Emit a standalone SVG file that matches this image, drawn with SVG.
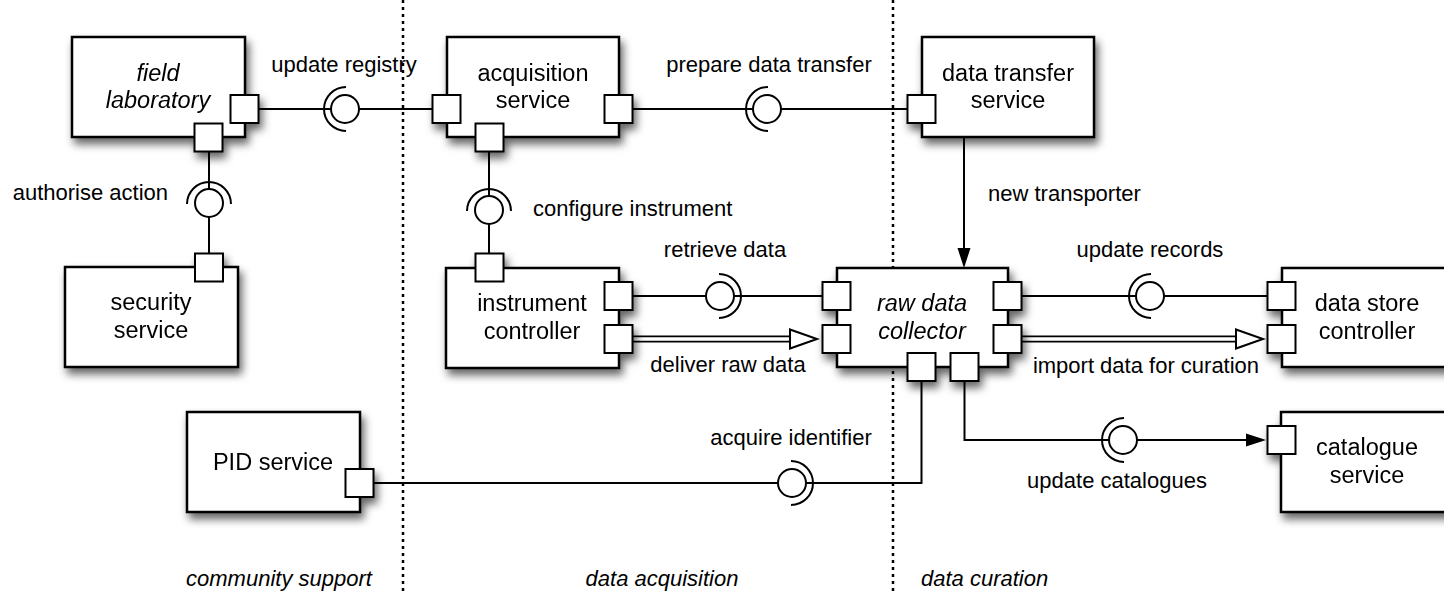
<svg xmlns="http://www.w3.org/2000/svg" width="1444" height="594" viewBox="0 0 1444 594">
  <style>
    .box { fill: #fff; stroke: #000; stroke-width: 2.5; }
    .port { fill: #fff; stroke: #000; stroke-width: 2; }
    .wire { fill: none; stroke: #000; stroke-width: 2; }
    .ball { fill: #fff; stroke: #000; stroke-width: 2; }
    .socket { fill: none; stroke: #000; stroke-width: 2; }
    .flow-outer { fill: none; stroke: #000; stroke-width: 7; }
    .flow-inner { fill: none; stroke: #fff; stroke-width: 3.5; }
    .hollow { fill: #fff; stroke: #000; stroke-width: 2; stroke-linejoin: miter; }
    .solid { fill: #000; stroke: none; }
    .lane { fill: none; stroke: #000; stroke-width: 2.5; stroke-dasharray: 3 4; }
    text { font-family: "Liberation Sans", Arial, Helvetica, sans-serif; fill: #000; }
    .name { font-size: 23.5px; text-anchor: middle; }
    .it { font-style: italic; }
    .lbl { font-size: 22px; }
    .mid { text-anchor: middle; }
    .end { text-anchor: end; }
  </style>
  <defs>
    <filter id="shadow" x="-20%" y="-20%" width="150%" height="160%">
      <feDropShadow dx="3" dy="6" stdDeviation="4" flood-color="#000" flood-opacity="0.6"/>
    </filter>
  </defs>

  <rect width="1444" height="594" fill="#fff"/>

  <!-- swimlane separators -->
  <g id="lanes">
    <line class="lane" x1="403" y1="0" x2="403" y2="594"/>
    <line class="lane" x1="893" y1="0" x2="893" y2="594"/>
    <text class="lbl it mid" x="279" y="586">community support</text>
    <text class="lbl it mid" x="662" y="586">data acquisition</text>
    <text class="lbl it" x="921" y="586">data curation</text>
  </g>

  <!-- connectors -->
  <g id="connectors">
    <!-- update registry -->
    <line class="wire" x1="258" y1="109" x2="433" y2="109"/>
    <circle class="ball" cx="345" cy="109" r="14"/>
    <path class="socket" d="M346,87 A22,22 0 0 0 346,131"/>
    <text class="lbl mid" x="344" y="72">update registry</text>

    <!-- prepare data transfer -->
    <line class="wire" x1="632" y1="109" x2="908" y2="109"/>
    <circle class="ball" cx="767" cy="109" r="14"/>
    <path class="socket" d="M768,87 A22,22 0 0 0 768,131"/>
    <text class="lbl mid" x="769" y="72">prepare data transfer</text>

    <!-- authorise action -->
    <line class="wire" x1="209" y1="151" x2="209" y2="254"/>
    <circle class="ball" cx="209" cy="203" r="14"/>
    <path class="socket" d="M187,204 A22,22 0 0 1 231,204"/>
    <text class="lbl end" x="168" y="200">authorise action</text>

    <!-- configure instrument -->
    <line class="wire" x1="489" y1="151" x2="489" y2="254"/>
    <circle class="ball" cx="489" cy="210" r="14"/>
    <path class="socket" d="M467,211 A22,22 0 0 1 511,211"/>
    <text class="lbl" x="533" y="216">configure instrument</text>

    <!-- new transporter -->
    <line class="wire" x1="964" y1="138" x2="964" y2="252"/>
    <path class="solid" d="M964,268 L957.5,248 L970.5,248 Z"/>
    <text class="lbl" x="988" y="201">new transporter</text>

    <!-- retrieve data -->
    <line class="wire" x1="632" y1="296" x2="823" y2="296"/>
    <circle class="ball" cx="720" cy="296" r="14"/>
    <path class="socket" d="M719,274 A22,22 0 0 1 719,318"/>
    <text class="lbl mid" x="725" y="257">retrieve data</text>

    <!-- deliver raw data -->
    <line class="flow-outer" x1="632" y1="339" x2="792" y2="339"/>
    <line class="flow-inner" x1="632" y1="339" x2="793" y2="339"/>
    <path class="hollow" d="M790,329.5 L817,339 L790,348.5 Z"/>
    <text class="lbl mid" x="728" y="372">deliver raw data</text>

    <!-- update records -->
    <line class="wire" x1="1021" y1="296" x2="1268" y2="296"/>
    <circle class="ball" cx="1150" cy="296" r="14"/>
    <path class="socket" d="M1151,274 A22,22 0 0 0 1151,318"/>
    <text class="lbl mid" x="1150" y="257">update records</text>

    <!-- import data for curation -->
    <line class="flow-outer" x1="1021" y1="339" x2="1238" y2="339"/>
    <line class="flow-inner" x1="1021" y1="339" x2="1239" y2="339"/>
    <path class="hollow" d="M1236,329.5 L1263,339 L1236,348.5 Z"/>
    <text class="lbl mid" x="1146" y="373">import data for curation</text>

    <!-- acquire identifier -->
    <polyline class="wire" points="921.5,381 921.5,483 373,483"/>
    <circle class="ball" cx="792" cy="483" r="14"/>
    <path class="socket" d="M791,461 A22,22 0 0 1 791,505"/>
    <text class="lbl mid" x="791" y="445">acquire identifier</text>

    <!-- update catalogues -->
    <polyline class="wire" points="964.5,381 964.5,440 1250,440"/>
    <path class="solid" d="M1266,440 L1246,433.5 L1246,446.5 Z"/>
    <circle class="ball" cx="1123" cy="440" r="14"/>
    <path class="socket" d="M1124,418 A22,22 0 0 0 1124,462"/>
    <text class="lbl mid" x="1117" y="488">update catalogues</text>
  </g>

  <!-- components -->
  <g id="field-laboratory" filter="url(#shadow)">
    <rect class="box" x="72" y="37" width="173" height="100"/>
    <rect class="port" x="230.5" y="95" width="28" height="28"/>
    <rect class="port" x="194.5" y="123.5" width="28" height="28"/>
    <text class="name it" x="158" y="81">field</text>
    <text class="name it" x="158" y="108">laboratory</text>
  </g>

  <g id="security-service" filter="url(#shadow)">
    <rect class="box" x="65" y="267" width="173" height="100"/>
    <rect class="port" x="195" y="253.5" width="28" height="28"/>
    <text class="name" x="151" y="310">security</text>
    <text class="name" x="151" y="338">service</text>
  </g>

  <g id="acquisition-service" filter="url(#shadow)">
    <rect class="box" x="447" y="37" width="172" height="100"/>
    <rect class="port" x="432.5" y="95" width="28" height="28"/>
    <rect class="port" x="604.5" y="95" width="28" height="28"/>
    <rect class="port" x="475.5" y="123.5" width="28" height="28"/>
    <text class="name" x="533" y="81">acquisition</text>
    <text class="name" x="533" y="108">service</text>
  </g>

  <g id="instrument-controller" filter="url(#shadow)">
    <rect class="box" x="446" y="268" width="173" height="100"/>
    <rect class="port" x="475.5" y="253.5" width="28" height="28"/>
    <rect class="port" x="604.5" y="282" width="28" height="28"/>
    <rect class="port" x="604.5" y="325" width="28" height="28"/>
    <text class="name" x="532" y="311">instrument</text>
    <text class="name" x="532" y="339">controller</text>
  </g>

  <g id="data-transfer-service" filter="url(#shadow)">
    <rect class="box" x="922" y="37" width="172" height="100"/>
    <rect class="port" x="907.5" y="95" width="28" height="28"/>
    <text class="name" x="1008" y="81">data transfer</text>
    <text class="name" x="1008" y="108">service</text>
  </g>

  <g id="raw-data-collector" filter="url(#shadow)">
    <rect class="box" x="837" y="268" width="171" height="99"/>
    <rect class="port" x="822.5" y="282" width="28" height="28"/>
    <rect class="port" x="822.5" y="325" width="28" height="28"/>
    <rect class="port" x="993.5" y="282" width="28" height="28"/>
    <rect class="port" x="993.5" y="325" width="28" height="28"/>
    <rect class="port" x="907.5" y="353" width="28" height="28"/>
    <rect class="port" x="950.5" y="353" width="28" height="28"/>
    <text class="name it" x="922" y="311">raw data</text>
    <text class="name it" x="922" y="339">collector</text>
  </g>

  <g id="data-store-controller" filter="url(#shadow)">
    <rect class="box" x="1282" y="268" width="172" height="99"/>
    <rect class="port" x="1267.5" y="282" width="28" height="28"/>
    <rect class="port" x="1267.5" y="325" width="28" height="28"/>
    <text class="name" x="1367" y="311">data store</text>
    <text class="name" x="1367" y="339">controller</text>
  </g>

  <g id="pid-service" filter="url(#shadow)">
    <rect class="box" x="187" y="412" width="173" height="100"/>
    <rect class="port" x="345.5" y="469" width="28" height="28"/>
    <text class="name" x="273" y="470">PID service</text>
  </g>

  <g id="catalogue-service" filter="url(#shadow)">
    <rect class="box" x="1281" y="412" width="173" height="100"/>
    <rect class="port" x="1267.5" y="426" width="28" height="28"/>
    <text class="name" x="1367" y="455">catalogue</text>
    <text class="name" x="1367" y="483">service</text>
  </g>
</svg>
